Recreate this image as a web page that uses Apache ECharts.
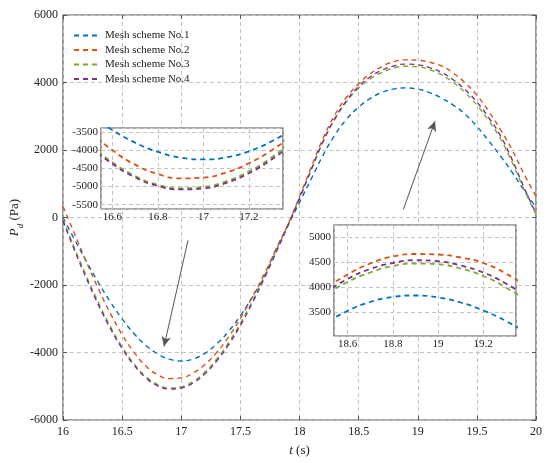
<!DOCTYPE html>
<html>
<head>
<meta charset="utf-8">
<title>Mesh scheme comparison</title>
<script src="https://cdn.jsdelivr.net/npm/echarts@6/dist/echarts.min.js"></script>
<style>
    html, body { margin: 0; padding: 0; background: #fff; }
    #main { width: 550px; height: 463px; }
</style>
</head>
<body>
<div id="main"></div>
<script>
    // time axis (s)
    var times = [16.0, 16.1, 16.2, 16.3, 16.4, 16.5, 16.6, 16.7, 16.8, 16.9,
        17.0, 17.1, 17.2, 17.3, 17.4, 17.5, 17.6, 17.7, 17.8, 17.9,
        18.0, 18.1, 18.2, 18.3, 18.4, 18.5, 18.6, 18.7, 18.8, 18.9,
        19.0, 19.1, 19.2, 19.3, 19.4, 19.5, 19.6, 19.7, 19.8, 19.9, 20.0];

    // pressure Pd (Pa)
    var mesh1 = [0, -665, -1313, -1929, -2498, -3005, -3438, -3786, -4042, -4198,
        -4250, -4193, -4025, -3748, -3374, -2908, -2363, -1754, -950, -250,
        450, 1150, 1850, 2450, 2920, 3270, 3530, 3710, 3810, 3840,
        3800, 3700, 3540, 3330, 3060, 2700, 2270, 1820, 1330, 800, 300];
    var mesh2 = [330, -505, -1333, -2117, -2835, -3469, -3991, -4393, -4655, -4773,
        -4751, -4611, -4356, -3996, -3538, -2989, -2362, -1687, -967, -224,
        620, 1500, 2350, 3050, 3570, 3960, 4260, 4480, 4620, 4670,
        4660, 4600, 4490, 4280, 3990, 3620, 3150, 2600, 1990, 1280, 630];
    var mesh3 = [-50, -934, -1754, -2527, -3223, -3832, -4328, -4707, -4948, -5047,
        -5011, -4853, -4580, -4193, -3705, -3138, -2480, -1768, -1010, -236,
        580, 1420, 2250, 2920, 3440, 3830, 4110, 4300, 4430, 4480,
        4465, 4380, 4230, 4000, 3700, 3330, 2870, 2330, 1620, 820, 100];
    var mesh4 = [-100, -990, -1820, -2590, -3280, -3880, -4370, -4745, -4985, -5080,
        -5050, -4900, -4630, -4250, -3770, -3200, -2540, -1820, -1050, -260,
        560, 1420, 2260, 2940, 3470, 3880, 4170, 4370, 4490, 4545,
        4525, 4440, 4300, 4080, 3790, 3420, 2960, 2420, 1700, 880, 120];

    var names = ['Mesh scheme No.1', 'Mesh scheme No.2', 'Mesh scheme No.3', 'Mesh scheme No.4'];
    var colors = ['#0072BD', '#D95319', '#77AC30', '#7E2F8E'];

    // arrows pointing from the insets to the zoomed regions (t, Pa)
    var arrowTrough = [[17.057, -681], [16.854, -3822]];
    var arrowPeak = [[18.878, 237], [19.146, 2853]];

    var FONT = 'Liberation Serif, Times New Roman, serif';
    var allData = [mesh1, mesh2, mesh3, mesh4];

    function pairs(vals) {
        return times.map(function (t, i) { return [t, vals[i]]; });
    }
    function plain(v) {
        return String(Math.round(v * 100) / 100);
    }

    var gridLine = {show: true, lineStyle: {color: '#c4c4c4', type: [4, 3], width: 1}};
    var labelStyle = {color: '#222', fontFamily: FONT, fontSize: 12, formatter: plain};
    var insetLabel = {color: '#222', fontFamily: FONT, fontSize: 11, margin: 3, showMinLabel: false, showMaxLabel: false, formatter: plain};
    var noLine = {show: false, onZero: false};

    var series = [];
    [0, 1, 2].forEach(function (g) {
        allData.forEach(function (vals, k) {
            var s = {
                name: names[k],
                type: 'line',
                xAxisIndex: g === 0 ? 0 : g + 1,
                yAxisIndex: g === 0 ? 0 : g + 1,
                data: pairs(vals),
                smooth: true,
                symbol: 'none',
                z: g === 0 ? 2 : 12,
                lineStyle: {color: colors[k], width: g === 0 ? 1.4 : 1.8, type: [5, 4]},
                itemStyle: {color: colors[k]}
            };
            if (g === 0 && k === 0) {
                s.markLine = {
                    silent: true,
                    symbol: ['none', 'arrow'],
                    symbolSize: [7, 10],
                    label: {show: false},
                    lineStyle: {color: '#555', type: 'solid', width: 1},
                    data: [
                        [{coord: arrowTrough[0]}, {coord: arrowTrough[1]}],
                        [{coord: arrowPeak[0]}, {coord: arrowPeak[1]}]
                    ]
                };
            }
            series.push(s);
        });
    });

    var chart = echarts.init(document.getElementById('main'));
    chart.setOption({
        animation: false,
        backgroundColor: '#fff',
        legend: {
            data: names,
            orient: 'vertical',
            left: 68,
            top: 25,
            itemWidth: 26,
            itemHeight: 10,
            itemGap: 3.5,
            itemStyle: {opacity: 0},
            textStyle: {color: '#222', fontFamily: FONT, fontSize: 11}
        },
        grid: [
            {left: 63, top: 15, width: 473, height: 405, show: true, borderColor: '#555', borderWidth: 1.2, backgroundColor: '#fff', containLabel: false, outerBoundsMode: 'none'},
            {left: 101, top: 128, width: 182, height: 81, show: true, borderColor: '#555', borderWidth: 1.2, backgroundColor: '#fff', z: 10, containLabel: false, outerBoundsMode: 'none'},
            {left: 334, top: 225, width: 182, height: 111, show: true, borderColor: '#555', borderWidth: 1.2, backgroundColor: '#fff', z: 10, containLabel: false, outerBoundsMode: 'none'}
        ],
        xAxis: [
            {
                type: 'value', gridIndex: 0, min: 16, max: 20, interval: 0.5,
                axisLine: noLine,
                axisTick: {show: true, inside: true, length: 4, lineStyle: {color: '#555'}},
                axisLabel: Object.assign({margin: 6}, labelStyle),
                splitLine: gridLine,
                name: '{i|t} (s)',
                nameLocation: 'middle',
                nameGap: 24,
                nameTextStyle: {color: '#222', fontFamily: FONT, fontSize: 13, rich: {i: {fontStyle: 'italic', fontFamily: FONT, fontSize: 13}}}
            },
            {
                type: 'value', gridIndex: 0, position: 'top', min: 16, max: 20, interval: 0.5,
                axisLine: noLine,
                axisTick: {show: true, inside: true, length: 4, lineStyle: {color: '#555'}},
                axisLabel: {show: false},
                splitLine: {show: false}
            },
            {
                type: 'value', gridIndex: 1, min: 16.55, max: 17.35, splitNumber: 4, z: 11,
                axisLine: noLine,
                axisTick: {show: false},
                axisLabel: insetLabel,
                splitLine: gridLine
            },
            {
                type: 'value', gridIndex: 2, min: 18.54, max: 19.345, splitNumber: 4, z: 11,
                axisLine: noLine,
                axisTick: {show: false},
                axisLabel: insetLabel,
                splitLine: gridLine
            }
        ],
        yAxis: [
            {
                type: 'value', gridIndex: 0, min: -6000, max: 6000, interval: 2000,
                axisLine: noLine,
                axisTick: {show: true, inside: true, length: 4, lineStyle: {color: '#555'}},
                axisLabel: Object.assign({margin: 5}, labelStyle),
                splitLine: gridLine,
                name: '{i|P}{s|d}{n| (Pa)}',
                nameLocation: 'middle',
                nameGap: 38,
                nameMoveOverlap: false,
                nameRotate: 90,
                nameTextStyle: {
                    color: '#222', fontFamily: FONT, fontSize: 13,
                    rich: {
                        i: {fontStyle: 'italic', fontFamily: FONT, fontSize: 13, lineHeight: 20, verticalAlign: 'middle'},
                        s: {fontStyle: 'italic', fontFamily: FONT, fontSize: 9, lineHeight: 9, verticalAlign: 'bottom'},
                        n: {fontFamily: FONT, fontSize: 13, lineHeight: 20, verticalAlign: 'middle'}
                    }
                }
            },
            {
                type: 'value', gridIndex: 0, position: 'right', min: -6000, max: 6000, interval: 2000,
                axisLine: noLine,
                axisTick: {show: true, inside: true, length: 4, lineStyle: {color: '#555'}},
                axisLabel: {show: false},
                splitLine: {show: false}
            },
            {
                type: 'value', gridIndex: 1, min: -5620, max: -3380, splitNumber: 5, z: 11,
                axisLine: noLine,
                axisTick: {show: false},
                axisLabel: insetLabel,
                splitLine: gridLine
            },
            {
                type: 'value', gridIndex: 2, min: 3030, max: 5250, splitNumber: 4, z: 11,
                axisLine: noLine,
                axisTick: {show: false},
                axisLabel: insetLabel,
                splitLine: gridLine
            }
        ],
        series: series
    });
    window.addEventListener('resize', function () {
        chart.resize();
    });
</script>
</body>
</html>
